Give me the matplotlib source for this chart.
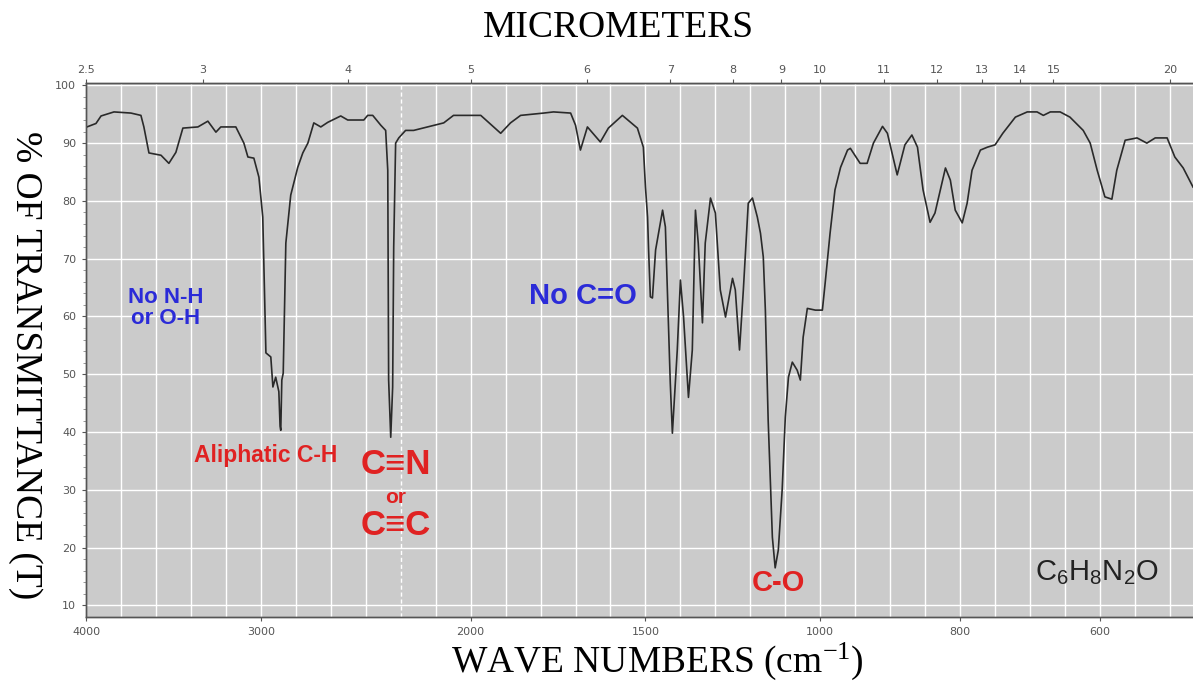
import numpy as np
import matplotlib
matplotlib.use('Agg')
import matplotlib.pyplot as plt

# spectrum (wavenumber, % transmittance)
wavenumber = [3995, 3943, 3914, 3840, 3743, 3686, 3669, 3640, 3571, 3526, 3486, 3446,
              3360, 3303, 3257, 3229, 3143, 3097, 3074, 3040, 3011, 2989, 2971, 2943,
              2931, 2915, 2897, 2890, 2886, 2880, 2872, 2866, 2857, 2829, 2789, 2760,
              2731, 2697, 2657, 2617, 2543, 2503, 2411, 2389, 2360, 2314, 2286, 2274,
              2269, 2257, 2246, 2240, 2229, 2211, 2186, 2163, 2123, 2077, 2049, 1971,
              1949, 1914, 1886, 1857, 1791, 1763, 1714, 1700, 1686, 1666, 1629, 1606,
              1566, 1523, 1506, 1500, 1494, 1491, 1486, 1480, 1471, 1451, 1443, 1429,
              1423, 1409, 1400, 1391, 1377, 1366, 1357, 1349, 1337, 1329, 1314, 1300,
              1286, 1271, 1251, 1243, 1231, 1220, 1206, 1194, 1180, 1171, 1163, 1157,
              1149, 1137, 1129, 1120, 1109, 1100, 1091, 1080, 1066, 1057, 1049, 1037,
              1014, 997, 993, 986, 979, 971, 961, 957, 943, 933, 924, 911, 904, 890,
              879, 869, 861, 853, 843, 836, 821, 814, 807, 797, 790, 783, 771, 761,
              750, 739, 721, 704, 690, 681, 671, 657, 643, 624, 614, 604, 593, 583,
              576, 564, 547, 533, 521, 504, 493, 481, 467]
transmittance = [92.8, 93.4, 94.7, 95.4, 95.2, 94.8, 92.8, 88.3, 87.9, 86.5, 88.4, 92.6,
                 92.8, 93.8, 91.9, 92.8, 92.8, 90.0, 87.6, 87.4, 84.1, 77.2, 53.7, 53.0,
                 47.8, 49.5, 47.0, 41.0, 40.3, 49.0, 50.2, 58.9, 72.7, 81.0, 85.8, 88.3,
                 90.0, 93.5, 92.8, 93.6, 94.7, 94.0, 94.0, 94.8, 94.8, 93.1, 92.2, 85.3,
                 49.0, 39.1, 47.8, 72.0, 90.0, 90.9, 92.2, 92.2, 92.8, 93.5, 94.8, 94.8,
                 93.6, 91.7, 93.5, 94.8, 95.2, 95.4, 95.2, 93.1, 88.8, 92.8, 90.2, 92.6,
                 94.8, 92.6, 89.3, 82.4, 77.2, 71.5, 63.4, 63.2, 71.5, 78.4, 75.5, 48.5,
                 39.8, 54.2, 66.3, 59.9, 46.0, 54.2, 78.4, 72.7, 58.9, 72.7, 80.5, 77.9,
                 64.6, 59.9, 66.6, 64.6, 54.2, 64.6, 79.6, 80.5, 77.2, 74.4, 70.3, 61.0,
                 42.0, 21.8, 16.5, 19.6, 30.0, 42.6, 49.5, 52.1, 50.7, 49.0, 56.4, 61.4,
                 61.1, 61.1, 65.8, 74.4, 81.9, 85.8, 88.8, 89.1, 86.5, 86.5, 90.0, 92.9,
                 91.7, 84.5, 89.7, 91.4, 89.3, 81.9, 76.3, 77.9, 85.7, 83.6, 78.4, 76.2,
                 79.6, 85.3, 88.8, 89.3, 89.7, 91.7, 94.5, 95.4, 95.4, 94.8, 95.4, 95.4,
                 94.5, 92.2, 90.0, 85.3, 80.7, 80.3, 85.3, 90.5, 90.9, 90.0, 90.9, 90.9,
                 87.6, 85.7, 82.4]

bottom_ticks = [4000, 3000, 2000, 1500, 1000, 800, 600]
micrometers = [2.5, 3, 4, 5, 6, 7, 8, 9, 10, 11, 12, 13, 14, 15, 20]
micron_labels = ['2.5', '3', '4', '5', '6', '7', '8', '9', '10', '11', '12', '13', '14', '15', '20']


# chart paper: scale doubles below 2200 and again below 1000 cm-1
def fwd(w):
    w = np.asarray(w, dtype=float)
    p = np.where(w >= 2200, 4000 - w,
                 np.where(w >= 1000, 1800 + (2200 - w) * 2, 4200 + (1000 - w) * 4))
    return -p


def inv(q):
    p = -np.asarray(q, dtype=float)
    return np.where(p <= 1800, 4000 - p,
                    np.where(p <= 4200, 2200 - (p - 1800) / 2, 1000 - (p - 4200) / 4))


fig = plt.figure(figsize=(11.93, 6.85), dpi=100)
ax = fig.add_axes([0.0721, 0.0993, 0.9279, 0.7795])
ax.set_xscale('function', functions=(fwd, inv))
ax.set_facecolor('#cbcbcb')

grid = list(range(3800, 2200, -200)) + list(range(2100, 1000, -100)) + list(range(1000, 460, -50))
for g in grid:
    ax.axvline(g, color='white', lw=1.0, zorder=1)
ax.axvline(2200, color='white', lw=1.0, ls=(0, (3, 2)), zorder=1)
for t in range(10, 101, 10):
    ax.axhline(t, color='white', lw=1.0, zorder=1)

ax.plot(wavenumber, transmittance, color='#2a2a2a', lw=1.2, zorder=3)

ax.set_xlim(4000, 467)
ax.set_ylim(8.0, 100.4)

tickfont = dict(fontsize=8, color='#555555')
ax.set_xticks(bottom_ticks)
ax.set_xticklabels([str(t) for t in bottom_ticks], **tickfont)
ax.set_xticks([], minor=True)
ax.set_yticks(range(10, 101, 10))
ax.set_yticklabels([str(t) for t in range(10, 101, 10)], **tickfont)
ax.set_yticks(np.arange(10, 100.5, 2), minor=True)
ax.tick_params(axis='both', which='major', length=3, color='#555555', pad=4)
ax.tick_params(axis='y', which='minor', length=2, color='#888888')

ax2 = ax.twiny()
ax2.set_xscale('function', functions=(fwd, inv))
ax2.set_xlim(ax.get_xlim())
ax2.set_xticks([10000.0 / m for m in micrometers])
ax2.set_xticklabels(micron_labels, **tickfont)
ax2.set_xticks([], minor=True)
ax2.tick_params(axis='x', length=3, color='#555555', pad=3)

for a in (ax, ax2):
    for s in ('top', 'left', 'bottom'):
        a.spines[s].set_color('#555555')
        a.spines[s].set_linewidth(1.0)
    a.spines['right'].set_visible(False)

serif = 'Liberation Serif'
fig.text(0.518, 0.959, 'MICROMETERS', family=serif, fontsize=27, ha='center', va='center')
fig.text(0.551, 0.034, r'WAVE NUMBERS (cm$\mathregular{^{-1}}$)', family=serif, fontsize=27,
         ha='center', va='center')
fig.text(0.021, 0.467, '% OF TRANSMITTANCE (T)', family=serif, fontsize=27, rotation=-90,
         ha='center', va='center')

sans = ['Liberation Sans', 'DejaVu Sans']
blue = '#2b2bd8'
red = '#e02222'
ax.text(3543, 61.4, 'No N-H\nor O-H', color=blue, family=sans, weight='bold', fontsize=16,
        ha='center', va='center', linespacing=1.0)
ax.text(1680, 63.5, 'No C=O', color=blue, family=sans, weight='bold', fontsize=21,
        ha='center', va='center')
ax.text(2971, 36.0, 'Aliphatic C-H', color=red, family=sans, weight='bold', fontsize=16.5,
        ha='center', va='center')
ax.text(2229, 34.3, 'C\u2261N', color=red, family=sans, weight='bold', fontsize=25,
        ha='center', va='center')
ax.text(2229, 28.6, 'or', color=red, family=sans, weight='bold', fontsize=15,
        ha='center', va='center')
ax.text(2229, 23.9, 'C\u2261C', color=red, family=sans, weight='bold', fontsize=25,
        ha='center', va='center')
ax.text(1120, 13.9, 'C-O', color=red, family=sans, weight='bold', fontsize=21,
        ha='center', va='center')
ax.text(604, 15.6, r'C$\mathregular{_6}$H$\mathregular{_8}$N$\mathregular{_2}$O', color='#222222',
        family=sans, fontsize=21, ha='center', va='center')

fig.savefig('out.png', dpi=100)
